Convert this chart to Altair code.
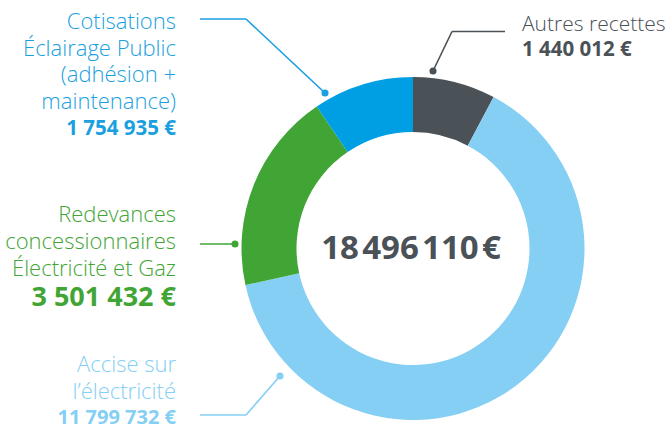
import altair as alt
import pandas as pd

# ---- data ----
categories = ["Autres recettes", "Accise sur l'électricité",
              "Redevances concessionnaires Électricité et Gaz",
              "Cotisations Éclairage Public (adhésion + maintenance)"]
values = [1440012, 11799732, 3501432, 1754935]
colors = ["#4a5157", "#84cff3", "#41a535", "#009fe3"]
total_label = "18\u200a496\u200a110\u200a€"

df = pd.DataFrame({"cat": categories, "val": values, "idx": list(range(len(values)))})

W, H = 671, 428
CX, CY = 413, 248.5
FONT = "Open Sans"

arc = alt.Chart(df).mark_arc(radius=171.5, radius2=116.5, stroke=None).encode(
    theta=alt.Theta("val:Q", stack=True),
    order=alt.Order("idx:Q"),
    color=alt.Color("cat:N", scale=alt.Scale(domain=categories, range=colors), legend=None),
    x=alt.value(CX), y=alt.value(CY),
)

base = alt.Chart(pd.DataFrame({"d": [0]}))

def txt(s, x, y, color, size, weight="normal", align="right", lh=26.5):
    return base.mark_text(text=s, align=align, baseline="middle", font=FONT,
                          fontSize=size, fontWeight=weight, color=color,
                          lineHeight=lh).encode(
        x=alt.value(x), y=alt.value(y))

def seg(x1, y1, x2, y2, color):
    return base.mark_rule(color=color, strokeWidth=1.6).encode(
        x=alt.value(x1), y=alt.value(y1), x2=alt.value(x2), y2=alt.value(y2))

def dot(x, y, color):
    return base.mark_point(filled=True, size=50, opacity=1, color=color).encode(
        x=alt.value(x), y=alt.value(y))

layers = [arc]
LS = 22

# Cotisations
c = "#1a9fe0"
layers.append(txt(["Cotisations", "Éclairage Public", "(adhésion +", "maintenance)"], 176, 22, c, LS, 300))
layers.append(txt("1 754 935 €", 176, 128.5, c, 20.5, "bold"))
layers += [seg(200, 19, 246, 19, c), seg(246, 19, 325, 93, c), dot(325, 93, c)]

# Autres recettes
c = "#4a5157"
layers.append(txt("Autres recettes", 522, 25, c, 21, 300, "left"))
layers.append(txt("1 440 012 €", 522, 50, c, 20.5, "bold", "left"))
layers += [seg(505, 31.5, 452, 31.5, c), seg(452, 31.5, 433, 71, c), dot(433, 71, c)]

# Redevances
c = "#41a535"
layers.append(txt(["Redevances", "concessionnaires", "Électricité et Gaz"], 176, 215, c, LS, 300, lh=26.75))
layers.append(txt("3 501 432 €", 176, 297.5, c, 27, "bold"))
layers += [seg(200, 244, 235, 244, c), dot(235, 244, c)]

# Accise
c = "#84cff3"
layers.append(txt(["Accise sur", "l’électricité"], 176, 365, c, LS, 300))
layers.append(txt("11 799 732 €", 176, 417.5, c, 20, "bold"))
layers += [seg(200, 415, 246, 415, c), seg(246, 415, 280, 376, c), dot(280, 376, c)]

# Center total
layers.append(txt(total_label, 411, CY, "#4a5157", 33, "bold", "center"))

chart = alt.layer(*layers).properties(
    width=W, height=H, padding=0, autosize=alt.AutoSizeParams(type="none")
).configure_view(stroke=None)

chart.save("out.html", embed_options={"renderer": "svg", "actions": False})
